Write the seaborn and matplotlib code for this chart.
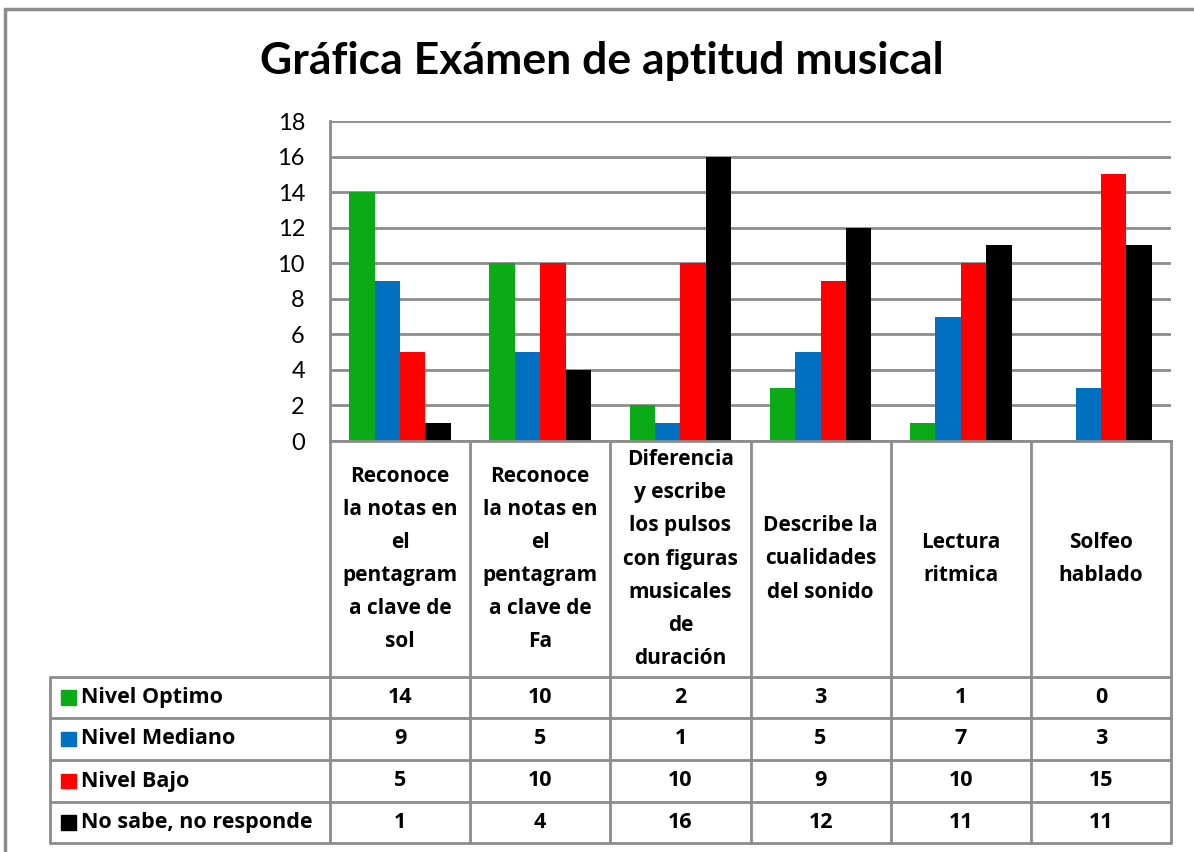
import pandas as pd
import seaborn as sns
import matplotlib.pyplot as plt
from matplotlib.patches import Rectangle
from matplotlib.transforms import blended_transform_factory

# chart data
categories = [
    "Reconoce\nla notas en\nel\npentagram\na clave de\nsol",
    "Reconoce\nla notas en\nel\npentagram\na clave de\nFa",
    "Diferencia\ny escribe\nlos pulsos\ncon figuras\nmusicales\nde\nduración",
    "Describe la\ncualidades\ndel sonido",
    "Lectura\nritmica",
    "Solfeo\nhablado",
]
series = ["Nivel Optimo", "Nivel Mediano", "Nivel Bajo", "No sabe, no responde"]
nivel_optimo = [14, 10, 2, 3, 1, 0]
nivel_mediano = [9, 5, 1, 5, 7, 3]
nivel_bajo = [5, 10, 10, 9, 10, 15]
no_sabe = [1, 4, 16, 12, 11, 11]
colors = ["#0BAA17", "#0070C0", "#FF0000", "#000000"]
title = "Gráfica Exámen de aptitud musical"
yticks = list(range(0, 19, 2))

values = [nivel_optimo, nivel_mediano, nivel_bajo, no_sabe]
rows = []
for s, vals in zip(series, values):
    for i, v in enumerate(vals):
        rows.append({"cat": i, "serie": s, "valor": v})
df = pd.DataFrame(rows)

sns.set_style("white")
plt.rcParams["font.family"] = ["Lato", "DejaVu Sans"]
plt.rcParams["text.color"] = "black"
plt.rcParams["ytick.color"] = "black"
table_font = ["Open Sans", "DejaVu Sans"]

W, H = 1194, 852
fig = plt.figure(figsize=(W / 100, H / 100), dpi=100)

# pixel geometry of the layout
left, right, top, bottom = 330, 1171, 121, 441
table_rows = [677, 718, 760, 802, 843]
grid_col = "#8C8C8C"

ax = fig.add_axes([left / W, (H - bottom) / H, (right - left) / W, (bottom - top) / H])
sns.barplot(data=df, x="cat", y="valor", hue="serie", hue_order=series,
            palette=colors, width=0.725, ax=ax, legend=False, saturation=1,
            edgecolor="none")
ax.set_xlim(-0.5, len(categories) - 0.5)
ax.set_ylim(0, 18)
ax.set_yticks(yticks)
ax.set_xticks([])
ax.set_xlabel("")
ax.set_ylabel("")
ax.yaxis.grid(True, color=grid_col, linewidth=2)
ax.set_axisbelow(True)
for sp in ["top", "right"]:
    ax.spines[sp].set_visible(False)
for sp in ["left", "bottom"]:
    ax.spines[sp].set_color(grid_col)
    ax.spines[sp].set_linewidth(2)
ax.tick_params(axis="y", length=0, pad=18, labelsize=17)

# overlay in pixel coordinates for the data table and border
ov = fig.add_axes([0, 0, 1, 1], zorder=-1)
ov.set_xlim(0, W)
ov.set_ylim(H, 0)
ov.axis("off")
ov.plot([5, 5], [H, 9], color=grid_col, lw=2.5)
ov.plot([5, W], [9, 9], color=grid_col, lw=2.5)

ov2 = fig.add_axes([0, 0, 1, 1])
ov2.set_xlim(0, W)
ov2.set_ylim(H, 0)
ov2.axis("off")
ov2.patch.set_alpha(0)

n = len(categories)
# vertical column lines
col_edges = [left + (right - left) * k / n for k in range(n + 1)]
for xe in col_edges:
    ov2.plot([xe, xe], [bottom, table_rows[-1]], color=grid_col, lw=2)
ov2.plot([50, 50], [table_rows[0], table_rows[-1]], color=grid_col, lw=2)
for yr in table_rows:
    ov2.plot([50, right], [yr, yr], color=grid_col, lw=2)

tr = blended_transform_factory(ax.transData, ov2.transData)
for i, cat in enumerate(categories):
    ov2.text(i, (bottom + table_rows[0]) / 2, cat, transform=tr, ha="center",
             va="center", fontsize=15, fontweight="bold", linespacing=1.76,
             multialignment="center", family=table_font)

for r, (s, vals, c) in enumerate(zip(series, values, colors)):
    yc = (table_rows[r] + table_rows[r + 1]) / 2
    ov2.add_patch(Rectangle((61, yc - 7.5), 14.5, 14.5, color=c))
    ov2.text(81, yc, s, ha="left", va="center", fontsize=15.5,
             fontweight="bold", family=table_font)
    for i, v in enumerate(vals):
        ov2.text(i, yc, str(v), transform=tr, ha="center", va="center",
                 fontsize=15.5, fontweight="bold", family=table_font)

fig.text(602 / W, 1 - 61 / H, title, ha="center", va="center",
         fontsize=32, fontweight="bold")

fig.savefig("out.png", dpi=100)
